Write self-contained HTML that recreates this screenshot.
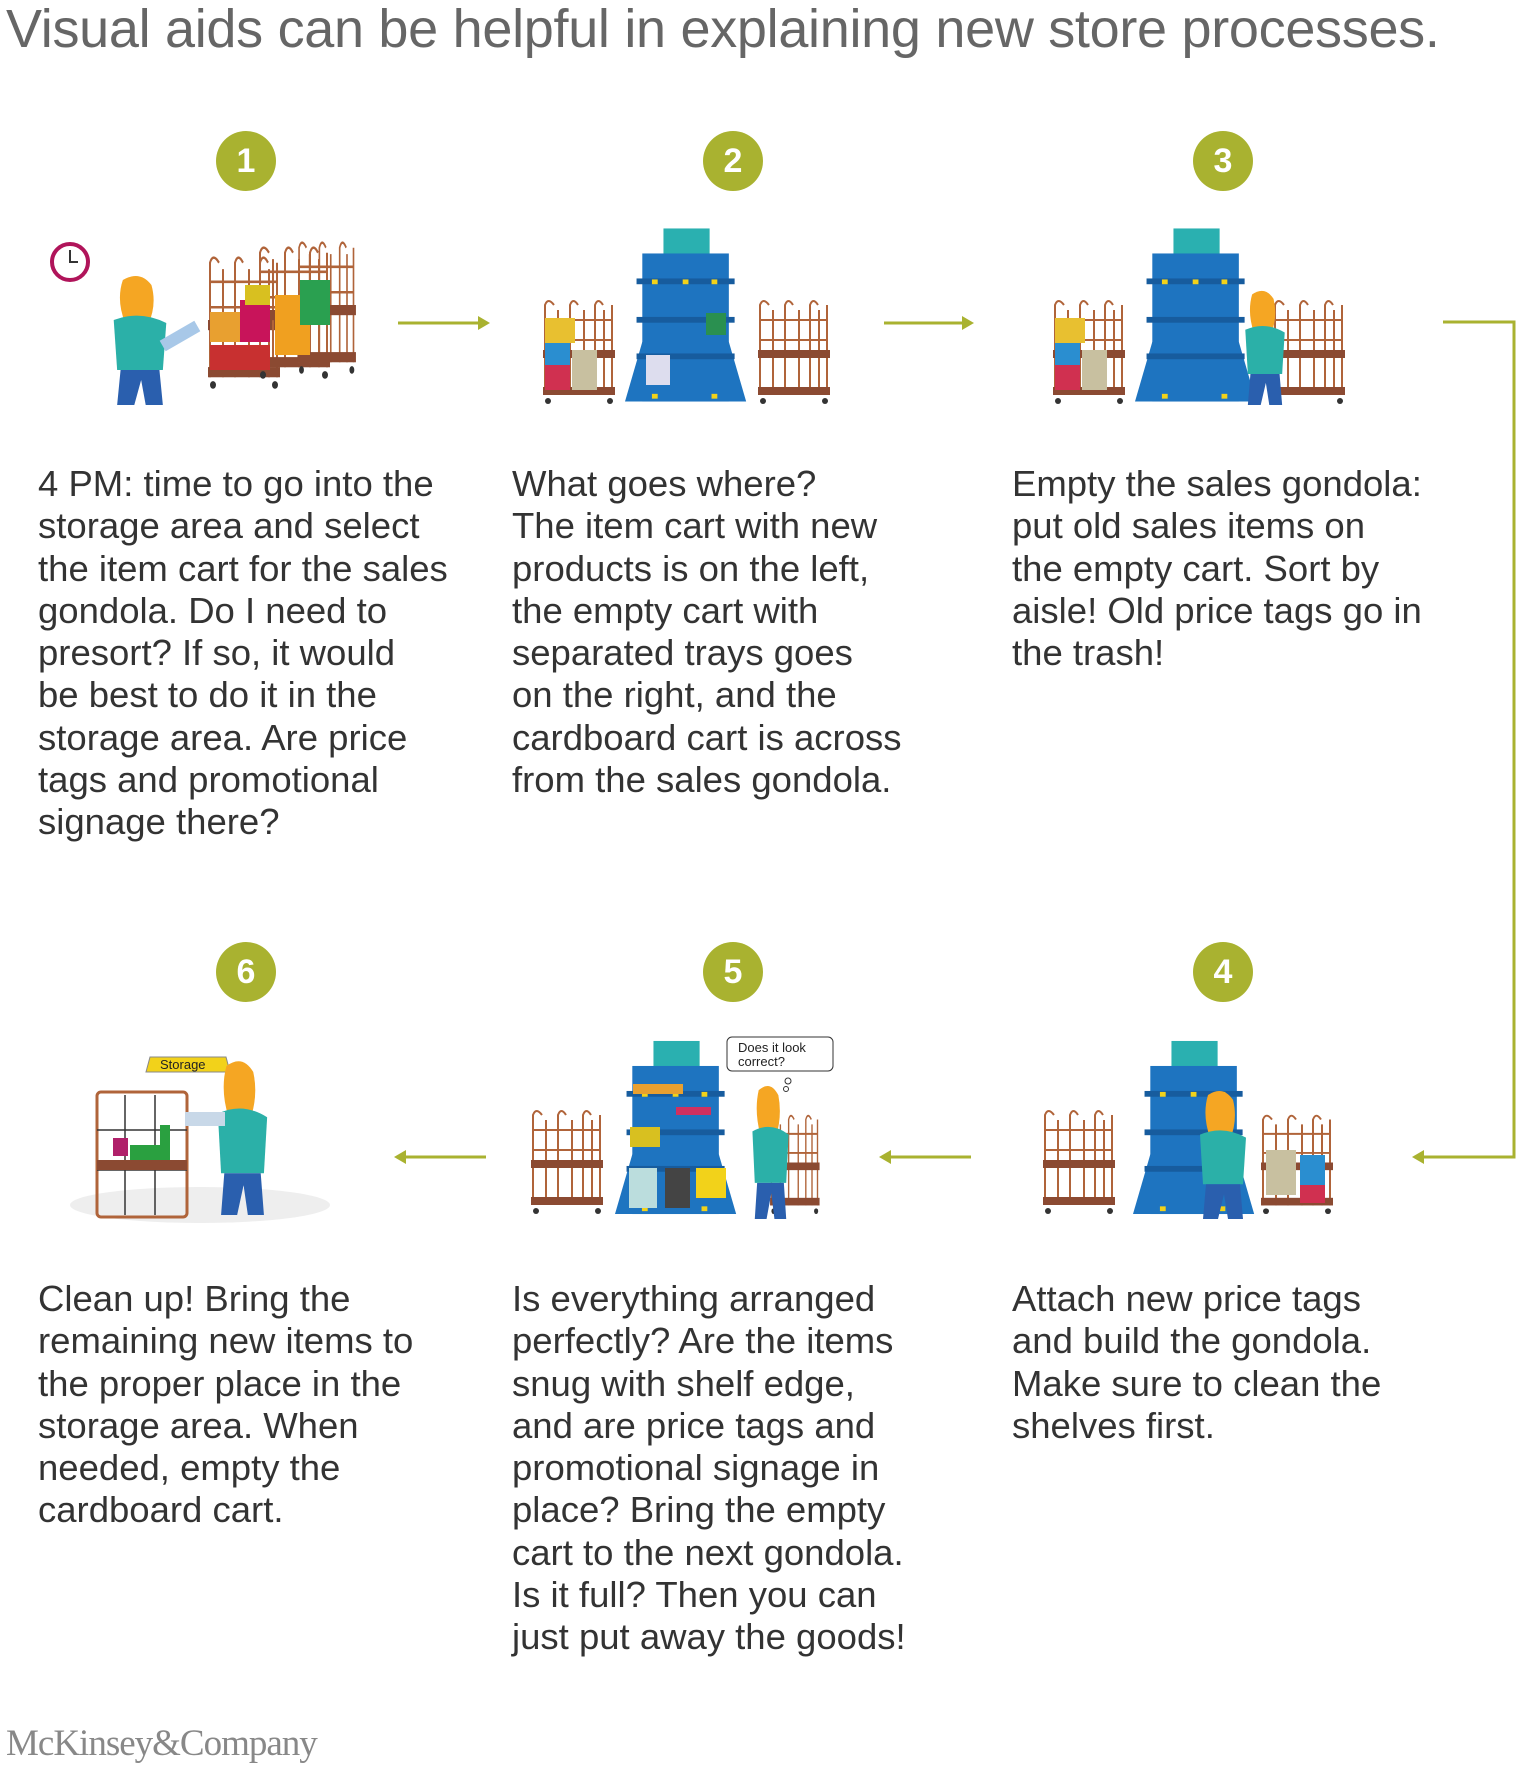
<!DOCTYPE html>
<html><head><meta charset="utf-8"><style>
body{margin:0;background:#fff;}
#w{position:relative;width:1536px;height:1771px;overflow:hidden;font-family:"Liberation Sans",Arial,sans-serif;}
h1{position:absolute;left:6px;top:-2px;margin:0;font-weight:normal;font-size:54px;color:#666;letter-spacing:-0.3px;white-space:nowrap;}
.t{position:absolute;font-size:36.5px;line-height:42.3px;color:#333;white-space:nowrap;}
.n{position:absolute;width:60px;height:60px;border-radius:50%;background:#a9b230;color:#fff;font-weight:bold;font-size:34px;line-height:60px;text-align:center;}
svg{position:absolute;left:0;top:0;}
.mk{position:absolute;left:6px;top:1722px;font-family:"Liberation Serif",serif;font-size:37px;color:#888;letter-spacing:-1px;}
</style></head><body><div id="w">
<svg width="1536" height="1771" viewBox="0 0 1536 1771">
<defs>
<symbol id="gon" viewBox="0 0 130 180" width="130" height="180">
 <rect x="40" y="0" width="48" height="30" fill="#2ab0b0"/>
 <rect x="18" y="26" width="90" height="154" fill="#1e74c0"/>
 <polygon points="18,118 108,118 126,180 0,180" fill="#1e74c0"/>
 <rect x="12" y="52" width="102" height="6" fill="#175c9e"/>
 <rect x="12" y="92" width="102" height="6" fill="#175c9e"/>
 <rect x="12" y="130" width="102" height="6" fill="#175c9e"/>
 <g fill="#f2d21a"><rect x="28" y="53" width="6" height="5"/><rect x="60" y="53" width="6" height="5"/><rect x="90" y="53" width="6" height="5"/><rect x="28" y="172" width="6" height="5"/><rect x="90" y="172" width="6" height="5"/></g>
</symbol>
<symbol id="cart" viewBox="0 0 80 110" width="80" height="110" preserveAspectRatio="none">
 <g stroke="#b0643a" stroke-width="2" fill="none">
  <path d="M5 100 V10 Q8 2 14 10 M30 100 V10 Q33 2 38 10 M55 100 V10 Q58 2 63 10 M72 100 V10"/>
  <path d="M5 25 H72 M5 45 H72 M18 15 V100 M44 15 V100 M64 15 V100"/>
 </g>
 <rect x="3" y="55" width="72" height="8" fill="#8b4a32"/>
 <rect x="3" y="92" width="72" height="8" fill="#8b4a32"/>
 <circle cx="8" cy="106" r="3" fill="#333"/><circle cx="70" cy="106" r="3" fill="#333"/>
</symbol>
<symbol id="per" viewBox="0 0 70 130" width="70" height="130" preserveAspectRatio="none">
 <path d="M20 5 Q35 -5 45 10 Q50 30 42 50 L22 48 Q14 25 20 5Z" fill="#f5a623"/>
 <path d="M12 45 Q35 35 58 48 L55 95 L15 95Z" fill="#2bb0a8"/>
 <path d="M18 95 H52 L55 130 H40 L36 105 L30 130 H15Z" fill="#2a5fae"/>
</symbol>
</defs>
<g stroke="#a9b230" stroke-width="3" fill="none">
 <path d="M398 323 H482"/><path d="M884 323 H966"/>
 <path d="M1443 322 H1514 V1157 H1422"/>
 <path d="M406 1157 H486"/><path d="M891 1157 H971"/>
</g>
<g fill="#a9b230">
 <polygon points="490,323 478,316 478,330"/><polygon points="974,323 962,316 962,330"/>
 <polygon points="1412,1157 1424,1150 1424,1164"/>
 <polygon points="394,1157 406,1150 406,1164"/><polygon points="879,1157 891,1150 891,1164"/>
</g>
<circle cx="70" cy="262" r="18" fill="#fff" stroke="#b0145a" stroke-width="4"/>
<path d="M70 250 V262 H78" stroke="#333" stroke-width="2" fill="none"/>
<use href="#per" x="100" y="275" width="80" height="130"/>
<rect x="160" y="330" width="40" height="12" fill="#a8c8e8" transform="rotate(-30 180 336)"/>
<use href="#cart" x="205" y="250" width="80" height="140"/>
<use href="#cart" x="255" y="240" width="80" height="140"/>
<use href="#cart" x="295" y="235" width="65" height="140"/>
<rect x="210" y="312" width="30" height="30" fill="#e8a030"/><rect x="240" y="300" width="30" height="42" fill="#c8145a"/>
<rect x="210" y="345" width="60" height="25" fill="#c83030"/><rect x="245" y="285" width="25" height="20" fill="#d8c020"/>
<rect x="275" y="295" width="35" height="60" fill="#f0a020"/><rect x="300" y="280" width="30" height="45" fill="#2aa050"/>
<use href="#cart" x="540" y="295" width="80" height="110"/>
<rect x="545" y="318" width="30" height="25" fill="#e8c030"/><rect x="545" y="343" width="25" height="32" fill="#2a8ed0"/><rect x="545" y="365" width="25" height="25" fill="#d03050"/><rect x="572" y="350" width="25" height="40" fill="#c8c0a0"/>
<use href="#gon" x="625" y="225" width="125" height="180"/>
<rect x="646" y="355" width="24" height="30" fill="#dde" />
<rect x="706" y="313" width="20" height="22" fill="#2a9050"/>
<use href="#cart" x="755" y="295" width="80" height="110"/>
<use href="#cart" x="1050" y="295" width="80" height="110"/>
<rect x="1055" y="318" width="30" height="25" fill="#e8c030"/><rect x="1055" y="343" width="25" height="32" fill="#2a8ed0"/><rect x="1055" y="365" width="25" height="25" fill="#d03050"/><rect x="1082" y="350" width="25" height="40" fill="#c8c0a0"/>
<use href="#gon" x="1135" y="225" width="125" height="180"/>
<use href="#cart" x="1270" y="295" width="80" height="110"/>
<use href="#per" x="1235" y="290" width="60" height="115"/>
<ellipse cx="200" cy="1205" rx="130" ry="18" fill="#eee"/>
<polygon points="150,1057 226,1057 230,1072 146,1072" fill="#f2d21a" stroke="#888"/>
<text x="160" y="1069" font-size="13" font-family="Liberation Sans,sans-serif" fill="#222">Storage</text>
<g stroke="#b0643a" stroke-width="3" fill="none"><rect x="97" y="1092" width="90" height="125" rx="4"/></g>
<g stroke="#333" stroke-width="1.5"><path d="M97 1130 H187 M97 1170 H187 M125 1095 V1215 M155 1095 V1215"/></g>
<rect x="97" y="1160" width="90" height="10" fill="#8b4a32"/>
<rect x="113" y="1138" width="15" height="18" fill="#b0206a"/><rect x="160" y="1125" width="10" height="35" fill="#2aa040"/><rect x="130" y="1145" width="40" height="15" fill="#2aa040"/>
<use href="#per" x="205" y="1060" width="75" height="155"/>
<rect x="185" y="1112" width="40" height="14" fill="#c8d8e8"/>
<use href="#cart" x="528" y="1105" width="80" height="110"/>
<use href="#gon" x="615" y="1036" width="125" height="183"/>
<g fill="#e8a030"><rect x="633" y="1084" width="50" height="10"/></g><g fill="#d03060"><rect x="676" y="1107" width="35" height="8"/></g><g fill="#d8c020"><rect x="630" y="1127" width="30" height="20"/></g>
<rect x="629" y="1168" width="28" height="40" fill="#bdd"/><rect x="665" y="1168" width="25" height="40" fill="#444"/><rect x="696" y="1168" width="30" height="30" fill="#f2d21a"/>
<use href="#cart" x="768" y="1110" width="55" height="105"/>
<use href="#per" x="743" y="1085" width="55" height="134"/>
<rect x="727" y="1037" width="106" height="34" rx="5" fill="#fff" stroke="#333"/>
<text x="738" y="1052" font-size="13" font-family="Liberation Sans,sans-serif" fill="#222">Does it look</text>
<text x="738" y="1066" font-size="13" font-family="Liberation Sans,sans-serif" fill="#222">correct?</text>
<circle cx="788" cy="1081" r="3" fill="none" stroke="#333"/><circle cx="786" cy="1089" r="2.5" fill="none" stroke="#333"/>
<use href="#cart" x="1040" y="1105" width="80" height="110"/>
<use href="#gon" x="1133" y="1036" width="125" height="183"/>
<use href="#cart" x="1258" y="1110" width="80" height="105"/>
<rect x="1266" y="1150" width="30" height="45" fill="#c8c0a0"/><rect x="1300" y="1155" width="25" height="30" fill="#2a8ed0"/><rect x="1300" y="1185" width="25" height="18" fill="#d03050"/>
<use href="#per" x="1188" y="1090" width="70" height="129"/>
</svg>
<h1>Visual aids can be helpful in explaining new store processes.</h1>
<div class="n" style="left:216px;top:131px">1</div>
<div class="n" style="left:703px;top:131px">2</div>
<div class="n" style="left:1193px;top:131px">3</div>
<div class="n" style="left:216px;top:942px">6</div>
<div class="n" style="left:703px;top:942px">5</div>
<div class="n" style="left:1193px;top:942px">4</div>
<div class="t" style="left:38px;top:463px">4 PM: time to go into the<br>storage area and select<br>the item cart for the sales<br>gondola. Do I need to<br>presort? If so, it would<br>be best to do it in the<br>storage area. Are price<br>tags and promotional<br>signage there?</div>
<div class="t" style="left:512px;top:463px">What goes where?<br>The item cart with new<br>products is on the left,<br>the empty cart with<br>separated trays goes<br>on the right, and the<br>cardboard cart is across<br>from the sales gondola.</div>
<div class="t" style="left:1012px;top:463px">Empty the sales gondola:<br>put old sales items on<br>the empty cart. Sort by<br>aisle! Old price tags go in<br>the trash!</div>
<div class="t" style="left:38px;top:1278px">Clean up! Bring the<br>remaining new items to<br>the proper place in the<br>storage area. When<br>needed, empty the<br>cardboard cart.</div>
<div class="t" style="left:512px;top:1278px">Is everything arranged<br>perfectly? Are the items<br>snug with shelf edge,<br>and are price tags and<br>promotional signage in<br>place? Bring the empty<br>cart to the next gondola.<br>Is it full? Then you can<br>just put away the goods!</div>
<div class="t" style="left:1012px;top:1278px">Attach new price tags<br>and build the gondola.<br>Make sure to clean the<br>shelves first.</div>
<div class="mk">McKinsey&amp;Company</div>
</div></body></html>
